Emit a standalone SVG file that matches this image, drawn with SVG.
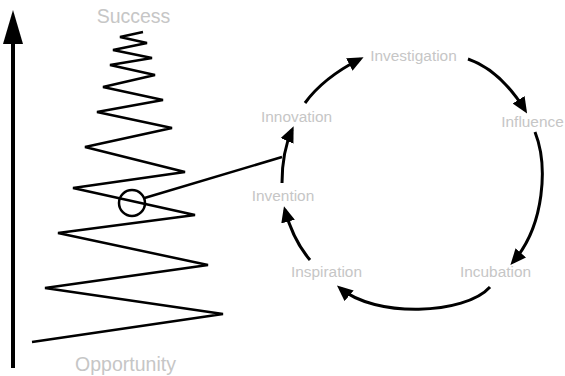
<svg xmlns="http://www.w3.org/2000/svg" width="565" height="376" viewBox="0 0 565 376">
<style>
.lbl{font-family:"Liberation Sans",Arial,sans-serif;fill:#c6c6c6;text-anchor:middle}
.big{font-size:19.5px}
.cyc{font-size:15.4px}
.ln{fill:none;stroke:#000;stroke-linecap:butt;stroke-linejoin:miter}
.arc{fill:none;stroke:#000;stroke-width:3;marker-end:url(#ah)}
</style>
<defs>
<marker id="ah" markerUnits="userSpaceOnUse" markerWidth="16" markerHeight="14" viewBox="0 0 16 14" refX="12" refY="7" orient="auto">
<path d="M0,0 L16,7 L0,14 z" fill="#000"/>
</marker>
</defs>
<g id="axis">
<line class="ln" x1="13" y1="368" x2="13" y2="40" stroke-width="4"/>
<polygon points="13,10 3,44 23,44" fill="#000"/>
</g>
<g id="zigzag">
<polyline class="ln" stroke-width="2.5" points="143,32 120,37 147,43 113,50 152,58 110,65 155,75 103,87 163,100 97,112 172,128 85,147 185,172 73,188 195,215 58,233 208,265 45,288 223,314 32,342"/>
<circle cx="132" cy="203" r="13" fill="none" stroke="#000" stroke-width="2.5"/>
</g>
<g id="success"><text class="lbl big" x="133.5" y="23">Success</text></g>
<g id="opportunity"><text class="lbl big" x="125.5" y="371">Opportunity</text></g>
<g id="investigation"><text class="lbl cyc" x="413.5" y="61">Investigation</text></g>
<g id="influence"><text class="lbl cyc" x="532.5" y="127">Influence</text></g>
<g id="incubation"><text class="lbl cyc" x="495.5" y="277">Incubation</text></g>
<g id="inspiration"><text class="lbl cyc" x="326.5" y="277">Inspiration</text></g>
<g id="invention"><text class="lbl cyc" x="283" y="201">Invention</text></g>
<g id="innovation"><text class="lbl cyc" x="296.5" y="122">Innovation</text></g>
<g id="connectors">
<line class="ln" x1="144.5" y1="198" x2="282" y2="157" stroke-width="2.5"/>
<path class="arc" d="M305,103 Q323,78 360,59"/>
<path class="arc" d="M468,59 Q500,70 525,110"/>
<path class="arc" d="M535,132 C548,165 545,225 513,262"/>
<path class="arc" d="M490,287 C465,315 375,318 340,288"/>
<path class="arc" d="M310,260 Q293,240 285,210"/>
<path class="arc" d="M282,183 Q282,152 292,130"/>
</g>
</svg>
